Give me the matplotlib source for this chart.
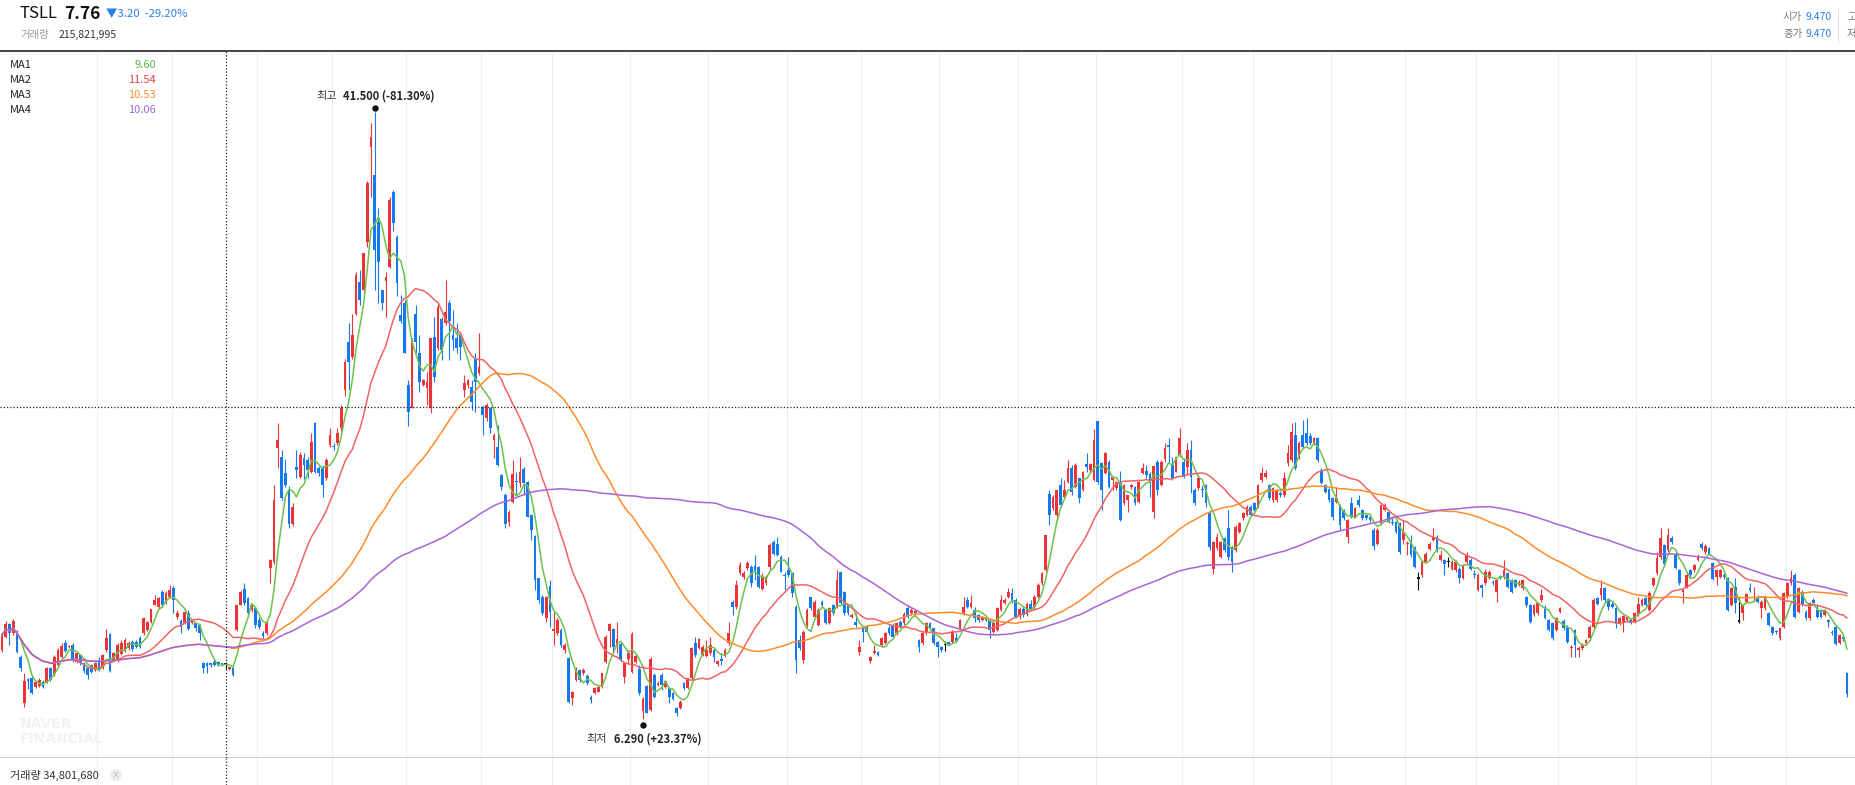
import matplotlib
matplotlib.use("Agg")
import matplotlib.pyplot as plt
from matplotlib.lines import Line2D
from matplotlib.transforms import offset_copy
import numpy as np
import pandas as pd

plt.rcParams['font.family'] = ['Noto Sans CJK KR', 'DejaVu Sans']

# 일봉 데이터 (시가 / 종가 / 고가 / 저가), 그림에서 읽은 값
opens = [
    10.31, 11.08, 11.82, 11.27, 11.27, 9.92, 7.22, 8.60, 8.66, 8.19,
    8.22, 8.47, 8.47, 9.25, 8.92, 9.44, 9.92, 10.70, 10.48, 10.60,
    9.63, 10.02, 9.54, 9.25, 9.44, 9.15, 9.73, 9.25, 10.31, 11.24,
    9.73, 9.73, 10.08, 10.31, 10.41, 10.79, 10.79, 10.98, 11.27, 11.47,
    11.95, 12.92, 12.82, 13.69, 13.11, 13.40, 13.88, 12.24, 12.01, 11.85,
    12.47, 11.85, 11.85, 11.76, 9.54, 9.54, 9.52, 9.63, 9.63, 9.50,
    9.47, 9.21, 9.25, 11.47, 12.92, 13.83, 13.30, 12.63, 12.72, 12.05,
    11.31, 11.27, 15.04, 15.42,
    21.99, 21.51, 20.54, 19.58, 17.60, 20.93, 20.35, 21.41, 21.32, 20.64,
    23.44, 20.83, 20.93, 20.25, 22.18, 22.13, 22.28, 23.15, 25.38, 28.17,
    27.30, 29.80, 31.65, 31.17, 33.97, 39.48, 37.83, 35.13, 31.17, 31.70,
    32.52, 36.87, 34.26, 29.70, 30.40, 25.66, 24.31, 29.80, 27.50, 25.66,
    25.47, 24.31, 28.46, 27.79, 29.50, 29.24, 30.40, 28.56, 28.37, 28.56,
    25.37, 25.66, 25.57, 27.20, 26.34, 24.41, 23.73, 24.31, 22.47, 22.09,
    20.45, 19.29, 17.70, 18.90,
    20.12, 19.97, 20.78, 20.07, 18.13, 16.92, 14.46, 13.40, 12.14, 14.02,
    11.40, 11.27, 11.47, 10.31, 9.83, 7.51, 8.57, 9.15, 8.96, 8.80,
    7.60, 7.80, 7.90, 8.14, 9.63, 11.43, 11.51, 10.64, 10.66, 8.76,
    9.77, 9.05, 9.63, 9.19, 6.79, 8.22, 6.83, 8.86, 8.30, 8.86,
    8.14, 8.09, 7.80, 6.93, 6.93, 8.38, 8.09, 8.67, 10.70, 10.41,
    10.02, 9.96, 10.12, 10.31, 9.48, 9.76, 9.96, 10.70, 13.11, 12.82,
    14.75, 14.56, 15.04, 15.14, 15.18, 15.14, 13.82, 14.17, 15.10, 16.59,
    16.45, 15.72, 14.66, 14.94, 14.75, 12.82, 10.89, 9.73, 11.76, 13.40,
    12.24, 11.76, 13.11, 12.63, 11.86, 12.92, 12.82, 14.85, 13.69, 12.92,
    12.24, 11.95, 10.21, 11.56, 11.66, 9.69, 10.12, 10.17, 10.60, 10.74,
    11.56, 11.76, 11.27, 11.95, 11.85, 12.72, 12.43, 12.43, 10.89, 10.70,
    11.27, 11.89, 11.56, 10.79, 10.50, 10.60, 10.79, 10.79, 10.99, 11.56,
    12.43, 13.21, 12.82, 12.63, 12.34, 12.05, 12.24, 12.05, 11.37, 11.47,
    12.63, 13.01, 13.40, 13.59, 13.21,
    12.30, 12.70, 12.40, 13.00, 12.80, 13.40, 14.20,
    14.94, 19.34, 18.51, 18.13, 19.86, 19.19, 20.06, 20.83, 19.77, 20.25,
    19.57, 21.08, 20.73, 20.15, 23.59, 21.12, 20.58, 21.22, 20.15, 19.67,
    19.96, 18.80, 19.00, 19.73, 19.73, 18.90, 20.54, 20.70, 20.50, 18.32,
    21.20, 19.86, 21.40, 22.18, 21.02, 20.64, 21.60, 21.22, 20.93, 21.89,
    19.57,
    19.67, 19.65, 19.86, 18.22, 15.03, 16.20, 15.71, 16.77, 17.35, 16.29,
    16.10, 17.16, 17.93, 18.13, 18.61, 18.80, 18.61, 20.15, 20.35, 19.86,
    19.00, 19.00, 19.38, 19.29, 21.12, 21.31, 22.76, 21.51, 22.76, 22.86,
    22.70, 22.28, 22.57, 20.73, 19.86, 19.61, 19.09, 18.90, 18.70, 18.42,
    16.87, 18.80, 18.03, 18.99, 18.42, 18.13, 18.03, 17.26, 16.48, 17.64,
    18.42, 18.32, 17.74, 17.74, 17.64, 16.68, 16.45, 16.58, 16.29, 14.45,
    14.65, 15.42, 16.19, 16.68, 16.87, 15.52, 15.52, 15.42, 15.03, 14.94,
    15.03, 14.46, 15.42, 15.55, 14.70, 13.78, 14.07, 14.17, 14.46, 14.27,
    13.68, 14.56, 14.55, 14.75, 14.36, 14.36, 14.07, 13.88, 13.39, 12.91,
    12.39, 12.43, 13.20, 12.81, 12.04, 11.85, 11.46, 12.52, 12.00, 11.65,
    10.40, 11.46, 10.30, 10.40, 10.69, 10.98, 11.65, 13.30, 13.49, 13.88,
    13.26, 13.00, 12.72, 11.85, 11.85, 12.04, 12.07, 11.94, 12.39, 12.91,
    13.30, 12.62, 14.07, 14.75, 15.71, 16.39, 16.10, 16.77, 15.90, 14.94,
    13.69, 13.98, 14.94, 14.94, 15.52, 16.45, 16.00, 16.20, 15.33, 14.56,
    14.56, 14.65, 14.46, 12.91, 13.98, 11.95, 12.43, 13.11, 13.88, 13.30,
    13.40, 12.72, 12.72, 12.43, 11.62, 11.37, 10.98, 11.66, 13.40, 14.17,
    14.65, 12.53, 13.69, 12.53, 12.14, 13.20, 12.62, 12.62, 12.33, 12.04,
    11.37, 11.66, 10.73, 11.08, 8.99,
]

closes = [
    11.18, 11.82, 11.27, 12.00, 10.21, 9.25, 8.51, 8.50, 7.84, 8.47,
    8.57, 8.19, 9.25, 8.57, 9.92, 10.31, 10.54, 10.27, 10.52, 9.73,
    10.12, 9.54, 9.11, 8.86, 9.06, 9.54, 9.15, 10.02, 10.98, 9.11,
    10.12, 10.60, 10.70, 10.89, 10.73, 10.35, 10.50, 10.50, 12.14, 11.95,
    12.66, 13.20, 13.30, 12.92, 13.59, 13.78, 13.20, 12.47, 11.62, 12.53,
    11.55, 12.05, 11.56, 11.27, 9.25, 9.38, 9.46, 9.44, 9.50, 9.47,
    9.47, 9.31, 8.86, 12.92, 13.69, 13.05, 12.43, 12.92, 11.76, 11.62,
    11.12, 11.95, 15.52, 18.99,
    22.47, 19.09, 19.87, 17.60, 18.60, 20.74, 21.60, 21.03, 20.74, 22.38,
    20.64, 20.54, 19.87, 21.32, 22.76, 22.08, 22.86, 24.31, 27.02, 27.01,
    28.56, 32.04, 30.59, 33.30, 37.35, 40.06, 33.49, 32.81, 30.40, 31.90,
    36.39, 35.03, 31.55, 29.40, 27.50, 24.12, 28.27, 28.17, 25.86, 25.95,
    25.86, 28.37, 26.15, 30.20, 27.70, 29.90, 29.40, 28.27, 27.79, 27.88,
    25.76, 25.95, 24.70, 25.86, 26.72, 23.92, 24.50, 23.15, 22.76, 21.03,
    19.77, 17.60, 18.30, 20.50,
    20.02, 20.65, 19.97, 18.04, 17.26, 14.37, 13.21, 12.43, 13.40, 12.53,
    11.50, 12.05, 10.60, 10.60, 7.31, 7.86, 9.15, 8.57, 9.15, 8.38,
    7.41, 8.09, 8.19, 8.96, 11.08, 11.82, 10.50, 10.95, 9.73, 9.54,
    10.15, 11.24, 9.96, 7.84, 7.45, 6.68, 9.77, 7.56, 8.38, 8.28,
    8.53, 7.60, 7.45, 6.64, 7.31, 8.09, 8.67, 10.41, 10.02, 10.93,
    10.50, 10.31, 10.60, 9.92, 9.67, 9.70, 10.31, 11.27, 12.82, 14.08,
    15.24, 14.79, 15.33, 14.17, 14.85, 13.94, 14.56, 14.56, 16.40, 15.90,
    15.82, 14.85, 14.60, 14.65, 13.60, 9.73, 10.41, 11.37, 12.63, 12.72,
    13.11, 12.63, 12.92, 11.86, 12.72, 12.43, 14.37, 13.01, 12.43, 12.43,
    12.34, 11.76, 10.50, 11.37, 11.37, 9.88, 10.27, 10.02, 10.99, 11.27,
    11.27, 11.08, 11.85, 11.66, 12.40, 12.24, 12.63, 12.59, 10.50, 11.27,
    11.85, 11.56, 10.70, 10.50, 10.31, 10.60, 10.66, 11.37, 10.85, 12.05,
    12.82, 12.82, 13.01, 12.14, 12.05, 12.24, 12.05, 11.47, 11.85, 12.72,
    13.21, 13.21, 13.69, 13.11, 12.24,
    12.70, 12.35, 13.00, 12.70, 13.40, 14.10, 14.75,
    16.97, 18.13, 19.19, 19.57, 18.70, 19.57, 20.83, 19.48, 21.02, 19.09,
    20.64, 20.93, 21.06, 22.47, 20.06, 19.57, 21.74, 19.77, 20.35, 20.06,
    17.83, 19.86, 19.28, 19.85, 18.80, 20.06, 20.83, 20.44, 20.06, 20.96,
    19.57, 21.22, 21.99, 22.05, 20.25, 21.47, 22.57, 20.35, 21.89, 20.35,
    18.80,
    20.25, 19.59, 18.80, 16.29, 16.58, 16.87, 16.58, 16.10, 15.71, 15.42,
    17.45, 17.64, 18.22, 18.61, 18.13, 18.42, 19.86, 20.54, 20.54, 19.09,
    19.67, 19.57, 19.29, 20.25, 21.70, 22.95, 20.83, 22.28, 22.09, 22.28,
    22.30, 22.57, 21.31, 19.96, 19.48, 18.99, 18.03, 19.09, 17.54, 17.93,
    17.83, 18.03, 18.51, 18.70, 17.93, 17.93, 17.83, 16.33, 17.26, 18.70,
    18.70, 17.74, 17.64, 17.16, 16.00, 17.16, 16.50, 15.81, 15.13, 14.45,
    15.42, 15.90, 16.48, 16.87, 16.10, 15.81, 15.32, 15.42, 15.42, 15.42,
    14.46, 15.23, 15.81, 15.03, 14.65, 14.65, 13.88, 14.85, 14.85, 14.17,
    14.36, 14.50, 14.94, 13.97, 13.68, 13.97, 14.26, 14.36, 12.91, 11.94,
    12.91, 13.04, 13.49, 12.19, 11.46, 10.98, 12.14, 12.72, 11.56, 10.78,
    10.49, 10.59, 10.45, 10.59, 10.88, 11.65, 13.20, 13.00, 13.88, 13.20,
    12.81, 12.81, 11.88, 12.14, 12.29, 12.23, 11.85, 12.43, 13.00, 13.20,
    12.91, 13.59, 14.46, 15.62, 16.77, 15.32, 16.97, 16.58, 15.05, 14.17,
    13.78, 14.65, 14.65, 15.23, 15.75, 16.20, 16.33, 15.90, 14.40, 14.94,
    14.94, 14.56, 12.62, 13.88, 13.01, 11.95, 12.91, 13.55, 13.78, 13.40,
    13.11, 13.11, 13.45, 11.76, 11.27, 11.33, 11.56, 13.59, 14.17, 14.46,
    12.24, 13.88, 12.91, 12.14, 13.01, 13.01, 12.24, 12.24, 12.62, 11.95,
    11.27, 10.65, 11.17, 10.96, 7.76,
]

highs = [
    11.27, 12.00, 11.90, 12.10, 11.47, 10.00, 8.96, 8.66, 8.77, 8.57,
    8.66, 8.57, 9.35, 9.30, 10.00, 10.40, 10.70, 10.90, 10.60, 10.70,
    10.20, 10.10, 9.60, 9.30, 9.50, 9.60, 9.90, 10.10, 11.50, 11.30,
    10.20, 10.70, 10.90, 11.00, 10.85, 10.90, 10.90, 11.10, 12.20, 12.00,
    12.70, 13.50, 13.40, 13.80, 13.70, 14.10, 14.00, 12.60, 12.10, 12.60,
    12.60, 12.10, 11.95, 11.80, 9.60, 9.60, 9.58, 9.75, 9.70, 9.55,
    9.60, 9.35, 9.30, 13.00, 13.80, 14.17, 13.40, 13.00, 12.85, 12.20,
    11.40, 12.05, 15.60, 19.87,
    23.44, 21.90, 21.40, 19.80, 18.80, 21.90, 21.80, 21.70, 21.50, 22.86,
    23.54, 21.00, 21.03, 21.41, 23.15, 22.30, 23.15, 24.50, 27.20, 29.24,
    29.80, 32.20, 32.33, 33.30, 37.50, 40.83, 41.50, 35.90, 31.17, 32.20,
    36.58, 36.95, 34.36, 30.88, 30.60, 25.95, 28.40, 30.30, 28.56, 26.00,
    26.44, 28.40, 29.62, 30.40, 29.62, 31.75, 30.60, 30.00, 29.24, 28.60,
    26.24, 26.00, 25.95, 27.50, 28.66, 24.50, 24.60, 24.40, 22.90, 23.34,
    20.50, 19.40, 18.40, 21.30,
    20.65, 21.51, 20.93, 20.10, 18.20, 17.00, 14.50, 13.50, 13.45, 14.37,
    12.53, 12.14, 11.60, 10.70, 9.90, 7.95, 9.35, 9.20, 9.25, 8.90,
    7.70, 8.15, 8.25, 9.00, 11.20, 11.85, 11.57, 11.95, 10.79, 9.60,
    10.31, 11.37, 10.12, 9.44, 7.60, 8.30, 9.92, 8.96, 8.50, 8.96,
    8.57, 8.15, 7.85, 7.00, 7.41, 8.45, 8.70, 10.50, 11.08, 11.00,
    10.60, 10.89, 11.08, 10.40, 9.75, 10.12, 10.40, 11.95, 13.20, 14.37,
    15.40, 14.90, 15.45, 15.24, 15.81, 15.20, 14.79, 14.65, 16.50, 16.68,
    16.88, 15.81, 14.85, 15.72, 14.80, 12.90, 11.18, 11.47, 12.72, 13.40,
    13.20, 12.72, 13.20, 12.70, 12.80, 13.00, 14.94, 14.85, 13.75, 13.00,
    12.45, 12.43, 10.89, 11.70, 11.75, 9.95, 10.60, 10.25, 11.05, 11.35,
    11.76, 11.85, 11.95, 12.05, 12.50, 12.90, 12.72, 12.65, 10.95, 11.35,
    11.95, 11.95, 11.60, 10.85, 10.55, 10.85, 10.85, 11.45, 11.27, 12.10,
    13.40, 13.40, 13.50, 12.82, 12.40, 12.30, 12.30, 12.10, 11.95, 12.80,
    13.50, 13.30, 13.88, 13.88, 13.30,
    12.80, 12.85, 13.10, 13.20, 13.50, 14.20, 14.85,
    17.00, 19.60, 19.30, 19.60, 20.25, 20.15, 21.30, 21.02, 21.12, 20.30,
    20.70, 21.70, 21.12, 23.10, 23.60, 21.20, 21.80, 21.30, 20.40, 20.10,
    20.70, 19.90, 19.30, 19.95, 19.80, 20.10, 21.12, 21.02, 20.60, 21.00,
    21.30, 21.30, 22.28, 22.57, 21.50, 21.50, 23.15, 21.41, 22.28, 22.47,
    19.67,
    20.44, 19.86, 19.90, 18.42, 16.65, 17.06, 16.65, 16.85, 18.42, 16.35,
    17.55, 17.70, 18.30, 18.70, 18.70, 18.90, 19.95, 20.90, 20.75, 19.95,
    19.75, 19.65, 19.50, 20.64, 22.18, 23.44, 23.53, 22.40, 23.63, 23.73,
    22.86, 22.65, 22.66, 20.83, 19.95, 19.70, 19.15, 19.77, 18.75, 18.50,
    17.90, 19.19, 18.60, 19.30, 18.50, 18.20, 18.10, 17.35, 17.35, 18.75,
    18.80, 18.40, 17.93, 17.80, 17.70, 17.83, 16.60, 16.96, 16.35, 14.84,
    15.50, 16.00, 16.58, 17.35, 16.96, 16.10, 15.60, 15.71, 15.50, 15.50,
    15.10, 15.30, 16.00, 15.65, 14.94, 14.75, 14.15, 15.03, 14.95, 14.35,
    14.45, 14.65, 15.52, 14.85, 14.45, 14.45, 14.35, 14.45, 13.45, 13.00,
    13.00, 13.10, 13.87, 12.90, 12.10, 11.95, 12.20, 12.80, 12.10, 11.75,
    10.60, 11.55, 10.55, 10.70, 10.95, 11.75, 13.30, 13.40, 14.36, 13.95,
    13.30, 13.10, 12.80, 12.20, 12.35, 12.30, 12.15, 12.50, 13.39, 13.30,
    13.40, 13.70, 14.55, 16.00, 17.35, 16.45, 17.35, 16.90, 16.10, 15.00,
    13.85, 14.75, 15.03, 15.30, 15.85, 16.55, 16.45, 16.30, 15.43, 15.00,
    15.00, 14.75, 14.55, 13.95, 14.46, 13.30, 13.00, 13.60, 14.17, 13.98,
    13.50, 13.20, 13.50, 12.50, 11.70, 11.45, 11.60, 13.69, 14.25, 14.94,
    14.75, 13.95, 13.78, 12.60, 13.10, 13.30, 12.91, 12.70, 12.70, 12.10,
    11.45, 11.75, 11.25, 11.15, 9.05,
]

lows = [
    10.21, 11.00, 10.60, 11.20, 10.12, 9.10, 7.03, 8.03, 7.75, 8.10,
    8.15, 8.10, 8.40, 8.50, 8.80, 9.35, 9.80, 10.20, 10.40, 9.60,
    9.55, 9.45, 9.00, 8.60, 9.00, 9.10, 9.10, 9.20, 10.20, 9.05,
    9.70, 9.60, 10.00, 10.20, 10.30, 10.25, 10.40, 10.40, 11.20, 11.40,
    11.90, 12.90, 12.70, 12.80, 13.00, 13.30, 12.43, 12.10, 11.30, 11.80,
    11.45, 11.80, 11.40, 10.90, 9.00, 9.00, 9.35, 9.40, 9.40, 9.40,
    9.20, 9.15, 8.80, 11.40, 12.90, 12.90, 12.30, 12.50, 11.60, 11.50,
    11.00, 11.20, 14.20, 15.30,
    20.83, 18.99, 19.77, 17.40, 17.50, 20.25, 20.25, 20.20, 20.25, 20.54,
    20.54, 20.40, 19.19, 20.16, 22.09, 21.90, 22.20, 23.00, 25.00, 25.40,
    27.20, 29.70, 30.30, 31.00, 33.68, 36.58, 31.17, 30.40, 30.00, 29.60,
    32.42, 34.60, 30.80, 29.24, 27.50, 23.30, 24.31, 27.50, 25.28, 25.60,
    24.50, 24.02, 25.86, 27.70, 27.10, 29.14, 27.10, 27.70, 27.50, 27.10,
    24.98, 25.50, 24.21, 24.12, 26.24, 22.76, 23.60, 22.86, 21.41, 21.00,
    19.60, 17.40, 17.50, 18.80,
    19.29, 19.78, 19.29, 18.00, 16.68, 13.79, 13.01, 12.34, 11.95, 11.66,
    10.60, 11.20, 10.50, 10.12, 7.22, 7.12, 8.50, 8.45, 8.85, 8.28,
    7.22, 7.75, 7.85, 8.10, 9.55, 10.50, 10.12, 10.12, 9.70, 8.38,
    9.54, 8.96, 9.54, 7.70, 6.29, 6.64, 6.80, 7.51, 8.20, 7.99,
    8.09, 7.22, 7.40, 6.48, 6.90, 8.00, 8.05, 8.57, 9.92, 10.35,
    9.95, 9.92, 10.02, 9.63, 9.40, 9.44, 9.90, 10.60, 12.34, 12.70,
    14.65, 14.40, 14.95, 13.98, 14.37, 13.88, 13.79, 14.10, 15.00, 15.81,
    15.76, 14.81, 13.79, 14.56, 13.40, 8.96, 10.31, 9.54, 11.66, 12.63,
    12.20, 11.70, 12.85, 11.80, 11.80, 12.34, 12.72, 12.92, 12.34, 12.35,
    12.14, 11.66, 10.02, 10.79, 11.30, 9.55, 10.05, 9.95, 10.50, 10.65,
    11.20, 11.00, 11.20, 11.56, 11.75, 12.14, 12.34, 12.35, 10.21, 10.60,
    11.20, 11.47, 10.60, 9.92, 10.20, 10.25, 10.60, 10.70, 10.80, 11.50,
    12.35, 12.75, 12.75, 11.95, 11.95, 12.00, 11.98, 10.99, 11.30, 11.40,
    12.55, 12.95, 13.35, 13.05, 12.14,
    12.10, 12.20, 12.30, 12.55, 12.70, 13.30, 14.10,
    14.90, 17.55, 18.40, 17.80, 18.60, 19.10, 19.96, 19.29, 19.70, 18.80,
    19.50, 20.64, 20.60, 20.10, 19.90, 18.40, 20.50, 19.70, 19.57, 19.60,
    17.80, 18.70, 18.28, 19.65, 18.70, 18.80, 20.50, 20.25, 19.19, 17.93,
    19.27, 19.80, 21.20, 21.22, 20.15, 20.60, 21.50, 20.25, 20.45, 19.38,
    18.70,
    19.57, 19.19, 18.61, 16.10, 14.74, 16.10, 15.65, 16.00, 15.52, 14.84,
    16.00, 17.10, 17.85, 18.05, 18.05, 18.35, 18.55, 20.05, 20.25, 19.00,
    18.90, 18.90, 19.20, 19.20, 21.00, 21.20, 20.73, 21.40, 22.00, 22.20,
    22.18, 22.20, 21.20, 19.90, 19.40, 18.90, 17.83, 18.80, 17.26, 17.85,
    16.50, 17.95, 17.95, 18.60, 17.85, 17.85, 17.75, 16.10, 16.40, 17.55,
    18.35, 17.65, 17.54, 17.06, 15.90, 16.48, 15.81, 15.71, 15.05, 13.78,
    14.55, 15.35, 16.10, 16.60, 16.00, 15.45, 14.65, 15.13, 14.95, 14.85,
    14.17, 14.40, 15.32, 14.95, 14.46, 13.70, 13.39, 14.10, 14.40, 14.10,
    13.10, 14.40, 14.45, 13.90, 13.60, 13.90, 14.00, 13.80, 12.80, 11.85,
    12.30, 12.35, 13.10, 12.10, 11.40, 10.90, 11.40, 12.45, 11.45, 10.70,
    9.91, 9.91, 9.91, 10.30, 10.60, 10.90, 11.55, 12.90, 13.20, 13.10,
    12.62, 12.75, 11.56, 11.75, 11.36, 11.95, 11.80, 11.85, 12.30, 12.85,
    12.85, 12.55, 14.00, 14.65, 15.60, 15.20, 16.00, 16.45, 15.00, 14.10,
    13.01, 13.90, 14.55, 14.85, 15.45, 16.10, 15.90, 15.80, 14.36, 14.07,
    14.50, 14.45, 12.55, 12.85, 12.43, 11.90, 12.04, 13.01, 13.69, 13.11,
    13.05, 12.14, 12.65, 11.70, 11.20, 11.25, 10.90, 11.60, 13.35, 14.10,
    12.15, 12.45, 12.85, 12.05, 12.05, 12.95, 12.14, 12.15, 12.25, 11.66,
    11.20, 10.60, 10.65, 10.85, 7.60,
]

# 월 시작 봉 (세로 격자)
month_starts = [26, 46, 69, 89, 109, 129, 148, 169, 190, 211, 231, 252,
                273, 294, 317, 336, 357, 377, 396, 418, 439, 459, 479]

ma_windows = [5, 20, 60, 120]
ma_names = ['MA1', 'MA2', 'MA3', 'MA4']
ma_values = ['9.60', '11.54', '10.53', '10.06']
cursor_idx = 60
cursor_price = 24.39

UP = '#ec3338'
DOWN = '#1479ef'
MA_LINE = ['#6dc24b', '#f06464', '#ff8c2a', '#a864d8']
MA_TEXT = ['#5ab946', '#eb4646', '#f58c28', '#a064d7']

o = np.array(opens)
c = np.array(closes)
h = np.array(highs)
l = np.array(lows)
n = len(c)
x = np.arange(n)

W, H = 1855, 785
fig = plt.figure(figsize=(W / 100, H / 100), dpi=100)


def fx(px):
    return px / W


def fy(py):
    return 1 - py / H


ax = fig.add_axes([0, fy(758), 1, fy(51) - fy(758)])
vol = fig.add_axes([0, 0, 1, fy(758)])

step = 1845 / (n - 1)
x0 = -2 / step
for a in (ax, vol):
    a.set_xlim(x0, x0 + W / step)
    a.set_xticks([])
    a.set_yticks([])
    for m in month_starts:
        a.axvline(m - 0.5, color='#f0f0f0', lw=0.8, zorder=0)
    a.axvline(cursor_idx, color='#222222', lw=0.9, ls=(0, (1, 1.6)), zorder=6)
ax.set_ylim(4.05, 45.02)
vol.set_ylim(0, 1)

for s in ['left', 'right', 'bottom']:
    ax.spines[s].set_visible(False)
ax.spines['top'].set_color('#222222')
ax.spines['top'].set_linewidth(1.2)
ax.spines['bottom'].set_visible(True)
ax.spines['bottom'].set_color('#c8c8c8')
ax.spines['bottom'].set_linewidth(1.3)
for s in vol.spines.values():
    s.set_visible(False)

ax.axhline(cursor_price, color='#222222', lw=0.9, ls=(0, (1, 1.6)), zorder=6)

# 캔들
colors = np.where(c > o, UP, np.where(c < o, DOWN, '#111111'))
ax.vlines(x, l, h, colors=colors, lw=0.8, zorder=2)
body_low = np.minimum(o, c)
body_h = np.maximum(np.abs(c - o), 0.07)
ax.bar(x, body_h, bottom=body_low, width=0.72, color=colors, lw=0, zorder=3)

# 이동평균선
cs = pd.Series(c)
for win, col in zip(ma_windows, MA_LINE):
    ax.plot(x, cs.rolling(win, min_periods=1).mean(), color=col, lw=1.1,
            zorder=4, solid_capstyle='round')

# 최고 / 최저 표시
ih = int(np.argmax(h))
il = int(np.argmin(l))
up_tr = offset_copy(ax.transData, fig=fig, x=0, y=2.7, units='points')
dn_tr = offset_copy(ax.transData, fig=fig, x=0, y=-4.1, units='points')
ax.plot(ih, h[ih], 'o', ms=3.6, color='#111111', transform=up_tr, zorder=7)
ax.plot(il, l[il], 'o', ms=3.6, color='#111111', transform=dn_tr, zorder=7)
ax.annotate('최고', xy=(ih, h[ih]), xytext=(-27, 11.3), textcoords='offset points',
            ha='right', va='center', fontsize=8, color='#333333')
ax.annotate(f'{h[ih]:.3f} (-81.30%)', xy=(ih, h[ih]), xytext=(-23, 11.3),
            textcoords='offset points', ha='left', va='center', fontsize=8,
            fontweight='bold', color='#222222')
ax.annotate('최저', xy=(il, l[il]), xytext=(-26, -14.2), textcoords='offset points',
            ha='right', va='center', fontsize=8, color='#333333')
ax.annotate(f'{l[il]:.3f} (+23.37%)', xy=(il, l[il]), xytext=(-21, -14.2),
            textcoords='offset points', ha='left', va='center', fontsize=8,
            fontweight='bold', color='#222222')

# 워터마크
fig.text(fx(20), fy(724), 'NAVER', fontsize=10, fontweight='bold', color='#f2f2f2',
         va='center', family='DejaVu Sans')
fig.text(fx(20), fy(739), 'FINANCIAL', fontsize=10, fontweight='bold', color='#f2f2f2',
         va='center', family='DejaVu Sans')

# 상단 헤더
fig.text(fx(20), fy(14), 'TSLL', fontsize=12, color='#111111', va='center')
fig.text(fx(64), fy(14), '7.76', fontsize=12.5, fontweight='bold', color='#111111', va='center')
fig.text(fx(106), fy(14), '▼3.20  -29.20%', fontsize=8.2, color='#2b7de9', va='center')
fig.text(fx(20), fy(35), '거래량', fontsize=7.5, color='#9a9a9a', va='center')
fig.text(fx(59), fy(35), '215,821,995', fontsize=7.5, color='#333333', va='center')

fig.text(fx(1783), fy(17), '시가', fontsize=7.5, color='#777777', va='center')
fig.text(fx(1805), fy(17), '9.470', fontsize=7.5, color='#2b7de9', va='center')
fig.text(fx(1783), fy(34), '종가', fontsize=7.5, color='#777777', va='center')
fig.text(fx(1805), fy(34), '9.470', fontsize=7.5, color='#2b7de9', va='center')
fig.add_artist(Line2D([fx(1838), fx(1838)], [fy(9), fy(42)], color='#dddddd', lw=0.8))
# 오른쪽 끝에서 잘려 보이는 고가/저가 항목 (원본과 동일)
fig.text(fx(1847), fy(17), '고가', fontsize=7.5, color='#777777', va='center')
fig.text(fx(1847), fy(34), '저가', fontsize=7.5, color='#777777', va='center')

# 이동평균 범례
for k, (name, val, col) in enumerate(zip(ma_names, ma_values, MA_TEXT)):
    yy = fy(65 + 15 * k)
    fig.text(fx(10), yy, name, fontsize=8, color='#222222', va='center')
    fig.text(fx(156), yy, val, fontsize=8, color=col, va='center', ha='right')

# 거래량 패널
fig.text(fx(10), fy(775), '거래량 34,801,680', fontsize=8, color='#333333', va='center')
fig.text(fx(116), fy(775), '×', fontsize=6, color='#aaaaaa', va='center', ha='center',
         bbox=dict(boxstyle='circle,pad=0.2', fc='#eeeeee', ec='none'))

fig.savefig('out.png', dpi=100)
